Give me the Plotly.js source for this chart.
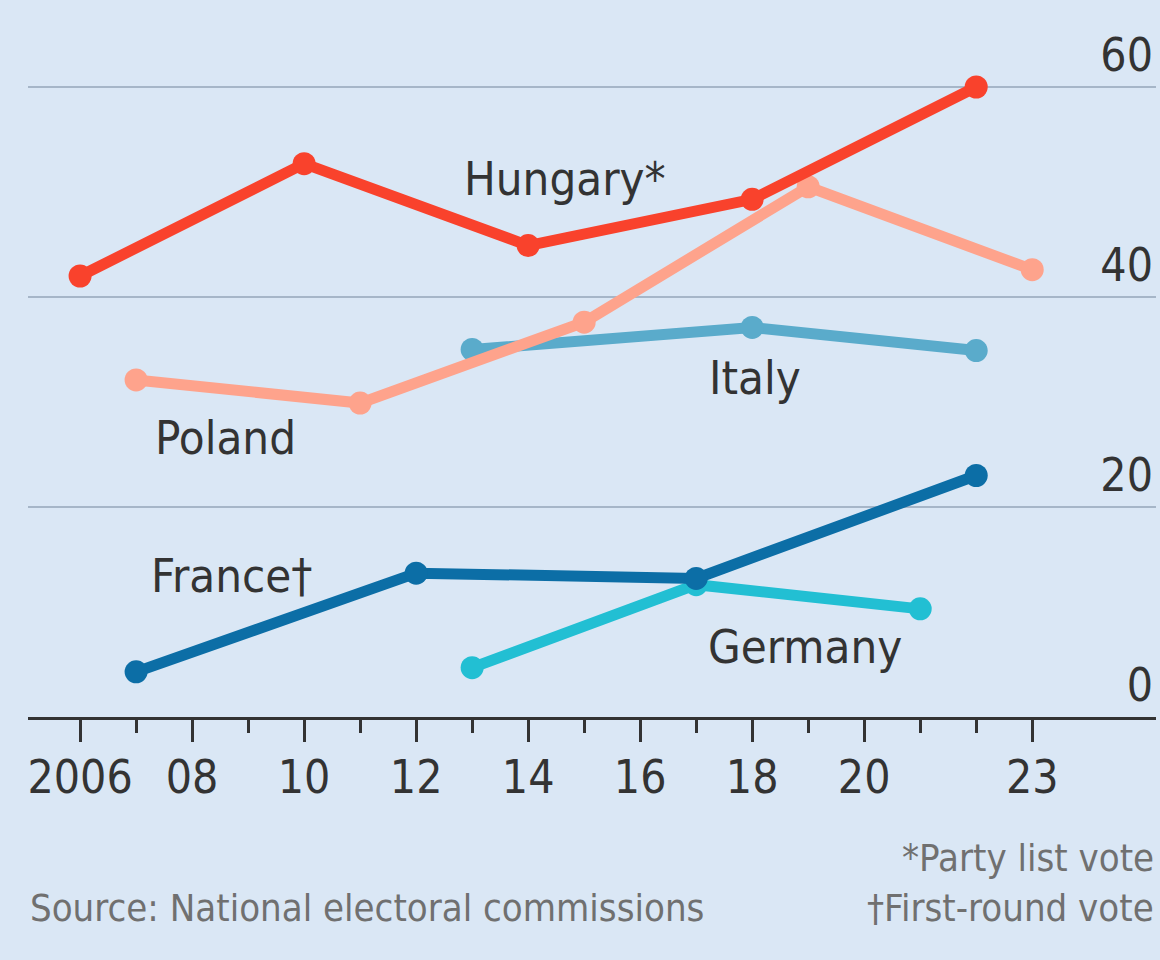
<!DOCTYPE html>
<html>
<head>
<meta charset="utf-8">
<script src="https://cdn.plot.ly/plotly-3.0.1.min.js"></script>
<style>html,body{margin:0;padding:0;background:#dae7f5;}#chart{width:1160px;height:960px;}</style>
</head>
<body>
<div id="chart"></div>
<script>
// Data (vote share, %)
const hungaryYears = [2006, 2010, 2014, 2018, 2022];
const hungaryVals  = [42.0, 52.7, 44.9, 49.3, 60.0];
const polandYears  = [2007, 2011, 2015, 2019, 2023];
const polandVals   = [32.1, 29.9, 37.6, 50.5, 42.6];
const italyYears   = [2013, 2018, 2022];
const italyVals    = [35.0, 37.1, 34.9];
const franceYears  = [2007, 2012, 2017, 2022];
const franceVals   = [4.3, 13.7, 13.2, 23.0];
const germanyYears = [2013, 2017, 2021];
const germanyVals  = [4.7, 12.6, 10.3];

const xTickVals  = [2006, 2008, 2010, 2012, 2014, 2016, 2018, 2020, 2023];
const xTickText  = ['2006', '08', '10', '12', '14', '16', '18', '20', '23'];
const xMinorVals = [2007, 2009, 2011, 2013, 2015, 2017, 2019, 2021, 2022];
const yTickVals  = [0, 20, 40, 60];

const FONT = 'Liberation Sans Narrow, DejaVu Sans Condensed, Arial Narrow, sans-serif';

function series(name, xs, ys, color) {
  return {
    type: 'scatter', mode: 'lines+markers', name: name,
    x: xs, y: ys,
    line: {color: color, width: 11},
    marker: {color: color, size: 23},
    hoverinfo: 'x+y+name'
  };
}

const data = [
  series('Germany', germanyYears, germanyVals, '#22bfd3'),
  series('Italy', italyYears, italyVals, '#5aabcb'),
  series('Poland', polandYears, polandVals, '#fea38c'),
  series('France', franceYears, franceVals, '#0c6ea6'),
  series('Hungary', hungaryYears, hungaryVals, '#f9422c')
];

const labelFont = {family: FONT, size: 47, color: '#333333'};
const noteFont = {family: FONT, size: 38, color: '#707070'};

const layout = {
  width: 1160, height: 960,
  paper_bgcolor: '#dae7f5', plot_bgcolor: '#dae7f5',
  margin: {l: 28, r: 4, t: 24, b: 243},
  showlegend: false,
  xaxis: {
    range: [2005.07, 2025.21],
    tickmode: 'array', tickvals: xTickVals, ticktext: xTickText,
    ticks: 'outside', ticklen: 22, tickwidth: 3, tickcolor: '#333333',
    minor: {tickmode: 'array', tickvals: xMinorVals, ticks: 'outside', ticklen: 13, tickwidth: 3, tickcolor: '#333333', showgrid: false},
    showgrid: false, zeroline: false,
    showline: true, linecolor: '#333333', linewidth: 3,
    tickfont: {family: FONT, size: 46, color: '#333333'},
    ticklabelstandoff: -4,
    fixedrange: true
  },
  yaxis: {
    range: [0, 66], side: 'right',
    tickmode: 'array', tickvals: yTickVals,
    ticklabelposition: 'inside top',
    ticks: '', showgrid: true, gridcolor: '#a6b6c8', gridwidth: 2.5,
    zeroline: false, showline: false,
    tickfont: {family: FONT, size: 46, color: '#333333'},
    fixedrange: true
  },
  annotations: [
    {x: 2014.66, y: 51.3, xref: 'x', yref: 'y', text: 'Hungary*', showarrow: false, font: labelFont},
    {x: 2008.59, y: 26.6, xref: 'x', yref: 'y', text: 'Poland', showarrow: false, font: labelFont},
    {x: 2018.05, y: 32.3, xref: 'x', yref: 'y', text: 'Italy', showarrow: false, font: labelFont},
    {x: 2008.71, y: 13.5, xref: 'x', yref: 'y', text: 'France†', showarrow: false, font: labelFont},
    {x: 2018.95, y: 6.7, xref: 'x', yref: 'y', text: 'Germany', showarrow: false, font: labelFont},
    {x: 0, y: -0.2756, xref: 'paper', yref: 'paper', xanchor: 'left', yanchor: 'middle', text: 'Source: National electoral commissions', showarrow: false, font: noteFont},
    {x: 1, y: -0.2035, xref: 'paper', yref: 'paper', xanchor: 'right', yanchor: 'middle', text: '*Party list vote', showarrow: false, font: noteFont},
    {x: 1, y: -0.2756, xref: 'paper', yref: 'paper', xanchor: 'right', yanchor: 'middle', text: '†First-round vote', showarrow: false, font: noteFont}
  ]
};

Plotly.newPlot('chart', data, layout, {displayModeBar: false, staticPlot: true});
</script>
</body>
</html>
